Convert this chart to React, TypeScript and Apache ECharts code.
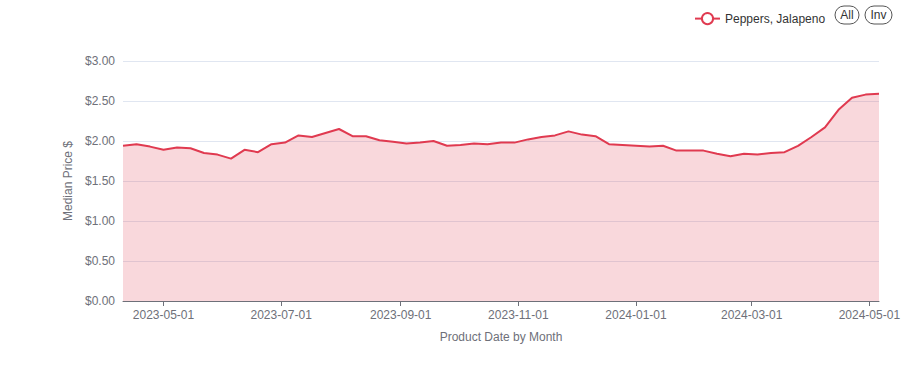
import React, { useEffect, useRef } from "react";
import * as echarts from "echarts";

const startDate = "2023-04-10";
const endDate = "2024-05-06";
const seriesName = "Peppers, Jalapeno";
const prices = [
  1.94, 1.96, 1.93, 1.89, 1.92, 1.91, 1.85, 1.83, 1.78, 1.89,
  1.86, 1.96, 1.98, 2.07, 2.05, 2.10, 2.15, 2.06, 2.06, 2.01,
  1.99, 1.97, 1.98, 2.00, 1.94, 1.95, 1.97, 1.96, 1.98, 1.98,
  2.02, 2.05, 2.07, 2.12, 2.08, 2.06, 1.96, 1.95, 1.94, 1.93,
  1.94, 1.88, 1.88, 1.88, 1.84, 1.81, 1.84, 1.83, 1.85, 1.86,
  1.94, 2.05, 2.17, 2.39, 2.54, 2.58, 2.59,
];
const tickDates = [
  "2023-05-01", "2023-07-01", "2023-09-01", "2023-11-01",
  "2024-01-01", "2024-03-01", "2024-05-01",
];
const yTicks = [0, 0.5, 1, 1.5, 2, 2.5, 3];
const buttons = ["All", "Inv"];

const FONT = "'Liberation Sans', Arial, Helvetica, sans-serif";
const LINE = "#e03a50";

function weekDates(start: string, n: number): number[] {
  const [y, m, d] = start.split("-").map(Number);
  const out: number[] = [];
  for (let i = 0; i < n; i++) out.push(new Date(y, m - 1, d + 7 * i).getTime());
  return out;
}
function toTs(s: string): number {
  const [y, m, d] = s.split("-").map(Number);
  return new Date(y, m - 1, d).getTime();
}
function fmt(v: number): string {
  const dt = new Date(v);
  const p = (x: number) => (x < 10 ? "0" + x : "" + x);
  return dt.getFullYear() + "-" + p(dt.getMonth() + 1) + "-" + p(dt.getDate());
}

export default function App() {
  const ref = useRef<HTMLDivElement>(null);
  useEffect(() => {
    if (!ref.current) return;
    const chart = echarts.init(ref.current, undefined, { renderer: "svg" });
    const dates = weekDates(startDate, prices.length);
    const data = dates.map((t, i) => [t, prices[i]]);
    const ticks = tickDates.map(toTs);
    const btnX = [835, 865];
    const btnW = [24, 27];
    chart.setOption({
      animation: false,
      textStyle: { fontFamily: FONT },
      grid: { left: 123, right: 36, top: 61, bottom: 86 },
      legend: {
        left: 689,
        top: 7,
        itemWidth: 25,
        itemHeight: 14,
        itemGap: 10,
        textStyle: { fontFamily: FONT, fontSize: 12, color: "#333" },
        data: [seriesName],
      },
      graphic: buttons.flatMap((b, i) => [
        {
          type: "rect",
          shape: { x: btnX[i], y: 6, width: btnW[i], height: 18, r: 9 },
          style: { fill: "#fff", stroke: "#555", lineWidth: 1 },
        },
        {
          type: "text",
          x: btnX[i] + btnW[i] / 2,
          y: 15,
          style: {
            text: b,
            fontFamily: FONT,
            fontSize: 12,
            fill: "#333",
            align: "center",
            verticalAlign: "middle",
          },
        },
      ]),
      xAxis: {
        type: "value",
        min: toTs(startDate),
        max: toTs(endDate),
        scale: true,
        name: "Product Date by Month",
        nameLocation: "middle",
        nameGap: 30,
        nameTextStyle: { fontFamily: FONT, fontSize: 12, color: "#6e7079" },
        axisLine: { show: true, lineStyle: { color: "#6e7079" } },
        axisTick: { show: true, customValues: ticks, lineStyle: { color: "#6e7079" } },
        axisLabel: {
          customValues: ticks,
          formatter: (v: number) => fmt(v),
          fontFamily: FONT,
          fontSize: 12,
          color: "#6e7079",
          margin: 8,
        },
        splitLine: { show: false },
      },
      yAxis: {
        type: "value",
        min: 0,
        max: 3,
        interval: 0.5,
        name: "Median Price $",
        nameLocation: "middle",
        nameGap: 48,
        nameTextStyle: { fontFamily: FONT, fontSize: 12, color: "#6e7079" },
        axisLine: { show: false },
        axisTick: { show: false },
        axisLabel: {
          formatter: (v: number) => (yTicks.includes(v) ? "$" + v.toFixed(2) : ""),
          fontFamily: FONT,
          fontSize: 12,
          color: "#6e7079",
          margin: 8,
        },
        splitLine: { lineStyle: { color: "#e0e6f1" } },
      },
      series: [
        {
          name: seriesName,
          type: "line",
          data,
          symbol: "circle",
          symbolSize: 11,
          showSymbol: false,
          itemStyle: { color: "#fff", borderColor: LINE, borderWidth: 2 },
          lineStyle: { color: LINE, width: 2 },
          areaStyle: { color: LINE, opacity: 0.2 },
        },
      ],
    });
    return () => chart.dispose();
  }, []);
  return <div ref={ref} style={{ width: 915, height: 387, position: "absolute", left: 0, top: 0 }} />;
}
